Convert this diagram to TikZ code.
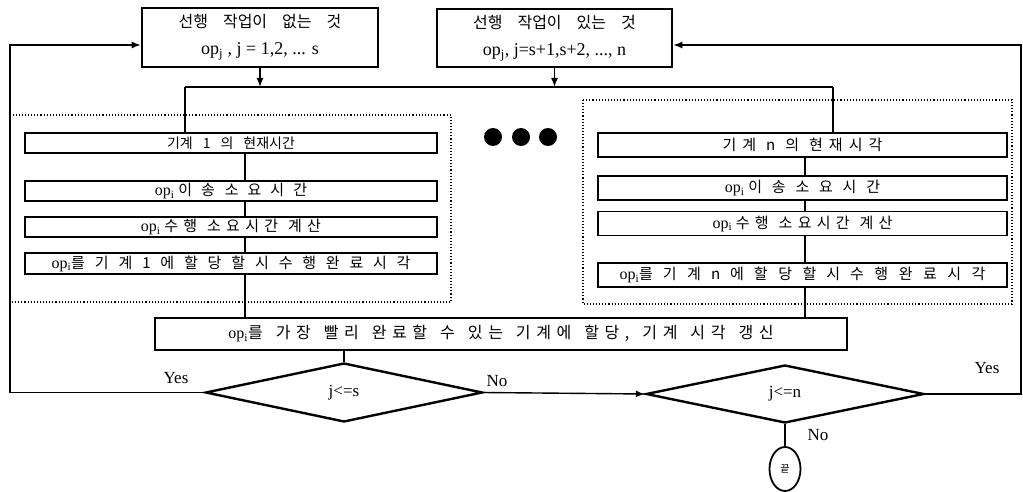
\documentclass[tikz,border=0pt]{standalone}
\usepackage{fontspec}
\setmainfont{Liberation Serif}
\newfontfamily\kr{Noto Sans CJK KR}
\usetikzlibrary{shapes.geometric,arrows.meta}
% Korean run with its own letter spacing and word gap
\newcommand\K[3]{{\kr\addfontfeature{LetterSpace=#1}\spaceskip=#2\relax #3}}
% operation symbol with index
\newcommand\op[1]{{\fontsize{16}{16}\selectfont op\textsubscript{#1}}}

\begin{document}
\begin{tikzpicture}[x=1pt,y=-1pt,
  box/.style={draw, line width=1.8pt, inner sep=0pt, anchor=center},
  topbox/.style={box, line width=2.6pt, align=center, font=\fontsize{18}{27}\selectfont},
  colbox/.style={box, font=\fontsize{15}{15}\selectfont},
  frame/.style={draw, dotted, line width=1.1pt},
  link/.style={line width=1.4pt},
  arr/.style={link, -{Latex[length=9pt,width=7pt]}},
  dec/.style={draw, diamond, line width=2.4pt, inner sep=0pt, font=\fontsize{17}{17}\selectfont},
  lab/.style={font=\fontsize{17}{17}\selectfont},
  dot/.style={circle, fill, inner sep=0pt, minimum size=18pt}]

\useasboundingbox (0,0) rectangle (1023,492);

% dotted frames around the two machine columns
\draw[frame] (10,115) rectangle (451,302);
\draw[frame] (583,100) rectangle (1012,304);

% operation groups
\node[topbox, minimum width=236, minimum height=59] (tl) at (260,37.5)
  {\fontsize{16}{27}\selectfont\K{0}{15pt}{선행 작업이 없는 것}\\\fontsize{18}{20}\selectfont op\textsubscript{j} , j = 1,2, ... s};
\node[topbox, minimum width=235, minimum height=58] (tr) at (554.5,38)
  {\fontsize{16}{27}\selectfont\K{0}{15pt}{선행 작업이 있는 것}\\\fontsize{18}{20}\selectfont op\textsubscript{j}, j=s+1,s+2, ..., n};

% machine 1 column
\node[colbox, minimum width=412, minimum height=20] (l1) at (231,143) {\fontsize{14}{14}\selectfont\K{0}{10pt}{기계 1 의 현재시간}};
\node[colbox, minimum width=412, minimum height=20] (l2) at (231,191) {\op{i} \K{60}{10pt}{이송 소요시간}};
\node[colbox, minimum width=412, minimum height=20] (l3) at (231,227) {\op{i} \K{35}{10pt}{수행 소요시간 계산}};
\node[colbox, minimum width=412, minimum height=21] (l4) at (231,263.5) {\op{i}\K{65}{10pt}{를 기계 1에 할당할 시 수행완료시각}};

% machine n column
\node[colbox, minimum width=409, minimum height=24] (r1) at (802.5,145) {\K{40}{10pt}{기계 n 의 현재시각}};
\node[colbox, minimum width=409, minimum height=24] (r2) at (802.5,188) {\op{i} \K{65}{10pt}{이송 소요시간}};
\node[colbox, minimum width=409, minimum height=24] (r3) at (802.5,223.5) {\op{i} \K{35}{10pt}{수행 소요시간 계산}};
\node[colbox, minimum width=409, minimum height=24] (r4) at (802.5,275) {\op{i}\K{70}{10pt}{를 기계 n 에 할당할 시 수행완료시각}};

% machines in between
\node[dot] (d1) at (493,137) {};
\node[dot] (d2) at (521,137) {};
\node[dot] (d3) at (548,137) {};

% assignment
\node[colbox, line width=2pt, minimum width=692, minimum height=32, font=\fontsize{16}{16}\selectfont] (big) at (501,334)
  {\op{i}\K{35}{13pt}{를 가장 빨리 완료할 수 있는 기계에 할당, 기계 시각 갱신}};

% decisions
\node[dec, minimum width=277, minimum height=59] (q1) at (344,392.5) {j<=s};
\node[dec, minimum width=278, minimum height=58] (q2) at (785,394) {j<=n};
\node[draw, ellipse, line width=1.8pt, inner sep=0pt, minimum width=31, minimum height=44,
      font=\fontsize{10}{10}\selectfont] (stop) at (785,469) {\kr 끝};

% labels
\node[lab] (yes1) at (176,378) {Yes};
\node[lab] (no1) at (497,381) {No};
\node[lab] (yes2) at (987,368) {Yes};
\node[lab] (no2) at (818,435) {No};

% distribution bus
\coordinate (busL) at (185,87);
\coordinate (busR) at (833,87);
\draw[arr] (tl.south) -- (tl.south |- busL);
\draw[arr] (tr.south) -- (tr.south |- busL);
\draw[link] (busL) -- (busR);
\draw[link] (busL) -- (busL |- l1.north);
\draw[link] (busR) -- (busR |- r1.north);

% column links
\coordinate (lx) at (245,0);
\coordinate (rx) at (805,0);
\draw[link] (lx |- l1.south) -- (lx |- l2.north);
\draw[link] (lx |- l2.south) -- (lx |- l3.north);
\draw[link] (lx |- l3.south) -- (lx |- l4.north);
\draw[link] (lx |- l4.south) -- (lx |- big.north);
\draw[link] (rx |- r1.south) -- (rx |- r2.north);
\draw[link] (rx |- r2.south) -- (rx |- r3.north);
\draw[link] (rx |- r3.south) -- (rx |- r4.north);
\draw[link] (rx |- r4.south) -- (rx |- big.north);

% decision flow
\draw[link] (q1.north |- big.south) -- (q1.north);
\draw[arr] (q1.east) -- (q2.west);
\draw[link] (q2.south) -- (stop.north);

% feedback loops
\coordinate (fbL) at (10,0);
\coordinate (fbR) at (1021,0);
\coordinate (inL) at ([yshift=-7.5pt]tl.west);
\coordinate (inR) at ([yshift=-7pt]tr.east);
\draw[arr] (q1.west) -- (fbL |- q1.west) -- (fbL |- inL) -- (inL);
\draw[arr] (q2.east) -- (fbR |- q2.east) -- (fbR |- inR) -- (inR);
\end{tikzpicture}
\end{document}
